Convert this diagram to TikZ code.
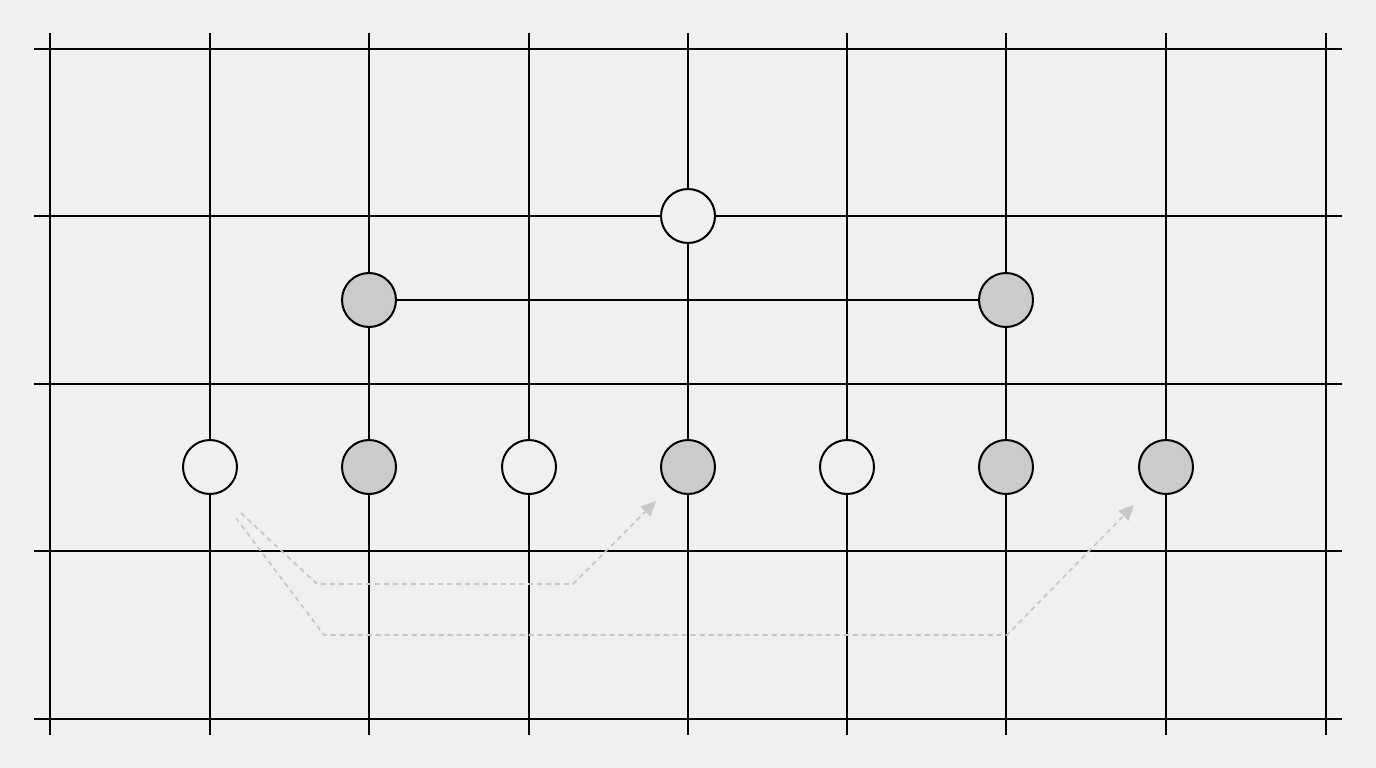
\documentclass[tikz,border=0pt]{standalone}
\usetikzlibrary{arrows.meta}
\definecolor{bg}{HTML}{F0F0F0}
\definecolor{nodegray}{HTML}{CBCBCB}
\definecolor{dashgray}{HTML}{C8C8C8}
\begin{document}
\begin{tikzpicture}[x=1pt,y=-1pt,
  gridline/.style={line width=2pt,black},
  whitenode/.style={circle,draw=black,line width=2pt,fill=bg,minimum size=54pt,inner sep=0pt},
  graynode/.style={circle,draw=black,line width=2pt,fill=nodegray,minimum size=54pt,inner sep=0pt},
  link/.style={line width=1.8pt,black},
  hint/.style={dashgray,line width=1.6pt,dash pattern=on 5pt off 4pt,-{Triangle[length=15pt,width=14pt]}}
]
\fill[bg] (0,0) rectangle (1376,768);
\useasboundingbox (0,0) rectangle (1376,768);
% grid
\foreach \x in {50,210,369,529,688,847,1006,1166,1326}
  \draw[gridline] (\x,33) -- (\x,735);
\foreach \y in {49,216,384,551,719}
  \draw[gridline] (34,\y) -- (1342,\y);
% nodes
\node[whitenode] (t) at (688,216) {};
\node[graynode] (m1) at (369,300) {};
\node[graynode] (m2) at (1006,300) {};
\draw[link] (m1) -- (m2);
\node[whitenode] (b1) at (210,467) {};
\node[graynode] (b2) at (369,467) {};
\node[whitenode] (b3) at (529,467) {};
\node[graynode] (b4) at (688,467) {};
\node[whitenode] (b5) at (847,467) {};
\node[graynode] (b6) at (1006,467) {};
\node[graynode] (b7) at (1166,467) {};
% hint arrows
\coordinate (s1) at (241,513);
\coordinate (s2) at (236,518);
\coordinate (e1) at (656,501);
\coordinate (e2) at (1134,505);
\draw[hint] (s1) -- (317,584) -- (573,584) -- (e1);
\draw[hint] (s2) -- (324,635) -- (1007,635) -- (e2);
\end{tikzpicture}
\end{document}
